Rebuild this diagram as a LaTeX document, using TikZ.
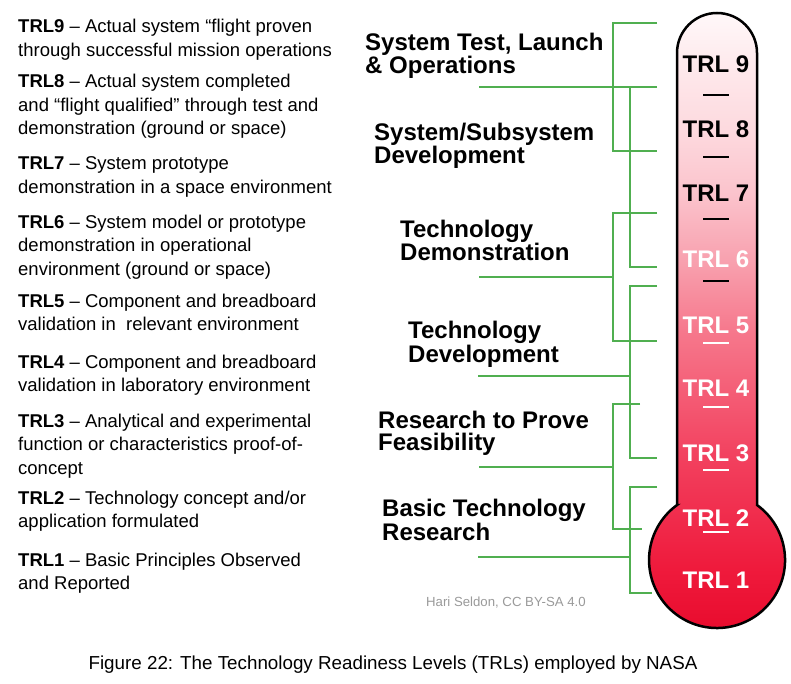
\documentclass[tikz,border=0pt]{standalone}
\usepackage{fontspec}
\setmainfont{Liberation Sans}

% thermometer fill colours, bottom to top
\definecolor{th0}{HTML}{E80A2C}
\definecolor{th1}{HTML}{EF1A3C}
\definecolor{th2}{HTML}{F2405E}
\definecolor{th3}{HTML}{F6788C}
\definecolor{th4}{HTML}{F8A0AE}
\definecolor{th5}{HTML}{FBC3CC}
\definecolor{th6}{HTML}{FDD9DE}
\definecolor{th7}{HTML}{FEE9EC}
\definecolor{th8}{HTML}{FFF8F9}
\definecolor{linkgreen}{RGB}{80,175,80}
\definecolor{creditgray}{HTML}{9A9A9A}

\pgfdeclareverticalshading{thermo}{100bp}{%
  color(0bp)=(th0); color(25bp)=(th0); color(30.5bp)=(th1);
  color(39.3bp)=(th2); color(49.5bp)=(th3); color(55bp)=(th4);
  color(60.5bp)=(th5); color(65.5bp)=(th6); color(70.75bp)=(th7);
  color(75bp)=(th8); color(100bp)=(th8)}

\begin{document}
\begin{tikzpicture}[x=1pt,y=-1pt,
  % multi-line nodes are placed by the baseline of their last line
  desc/.style={anchor=base west, inner sep=0pt, align=left,
    font=\fontsize{18.5}{23.5}\selectfont},
  phase/.style={anchor=base west, inner sep=0pt, align=left,
    font=\bfseries\fontsize{24}{22}\selectfont},
  level/.style={anchor=base, inner sep=0pt,
    font=\bfseries\fontsize{24}{24}\selectfont},
  link/.style={draw=linkgreen, line width=1.5pt},
  tick/.style={line width=2pt}]

\useasboundingbox[fill=white] (0,0) rectangle (791,684);

% level descriptions
\node[desc] (d9) at (18,56.5) {\textbf{TRL9} – Actual system “flight proven\\through successful mission operations};
\node[desc] (d8) at (18,135)  {\textbf{TRL8} – Actual system completed\\and “flight qualified” through test and\\demonstration (ground or space)};
\node[desc] (d7) at (18,193.5) {\textbf{TRL7} – System prototype\\demonstration in a space environment};
\node[desc] (d6) at (18,275)  {\textbf{TRL6} – System model or prototype\\demonstration in operational\\environment (ground or space)};
\node[desc] (d5) at (18,330.5) {\textbf{TRL5} – Component and breadboard\\validation in\ \ relevant environment};
\node[desc] (d4) at (18,391.5) {\textbf{TRL4} – Component and breadboard\\validation in laboratory environment};
\node[desc] (d3) at (18,474)  {\textbf{TRL3} – Analytical and experimental\\function or characteristics proof-of-\\concept};
\node[desc] (d2) at (18,527.5) {\textbf{TRL2} – Technology concept and/or\\application formulated};
\node[desc] (d1) at (18,589.5) {\textbf{TRL1} – Basic Principles Observed\\and Reported};

% phase labels
\node[phase] (p1) at (365,74)  {System Test, Launch\\\& Operations};
\node[phase] (p2) at (374,164) {System/Subsystem\\Development};
\node[phase] (p3) at (400,261) {Technology\\Demonstration};
\node[phase] (p4) at (408,362) {Technology\\Development};
\node[phase] (p5) at (378,450) {Research to Prove\\Feasibility};
\node[phase] (p6) at (382,540) {Basic Technology\\Research};

% brackets grouping the levels
\coordinate (s1) at (479,87);
\coordinate (s3) at (479,277);
\coordinate (s4) at (478,376);
\coordinate (s5) at (479,467);
\coordinate (s6) at (478,557);
\draw[link] (657,23) -| (613,151) -- (657,151);
\draw[link] (s1) -- (657,87);
\draw[link] (657,87) -| (630,267) -- (657,267);
\draw[link] (657,213) -| (613,341) -- (657,341);
\draw[link] (s3) -- (613,277);
\draw[link] (657,286) -| (630,458) -- (657,458);
\draw[link] (s4) -- (630,376);
\draw[link] (640,404) -| (613,529) -- (642,529);
\draw[link] (s5) -- (613,467);
\draw[link] (657,487) -| (630,593) -- (652,593);
\draw[link] (s6) -- (630,557);

% thermometer
\path[shade, shading=thermo, draw=black, line width=2.5pt]
  (677,505) -- (677,53) arc[start angle=180, end angle=360, radius=40]
  -- (757,505) arc[start angle=-54, end angle=234, radius=68] -- cycle;

% scale ticks
\foreach \y in {95,157,219,281}
  \draw[tick, black] (703,\y) -- (729,\y);
\foreach \y in {343,407,470,532}
  \draw[tick, white] (703,\y) -- (729,\y);

% level marks on the scale
\node[level] (t9) at (716,73)  {TRL 9};
\node[level] (t8) at (716,138) {TRL 8};
\node[level] (t7) at (716,202) {TRL 7};
\node[level, white] (t6) at (716,268) {TRL 6};
\node[level, white] (t5) at (716,333) {TRL 5};
\node[level, white] (t4) at (716,396) {TRL 4};
\node[level, white] (t3) at (716,461) {TRL 3};
\node[level, white] (t2) at (716,526) {TRL 2};
\node[level, white] (t1) at (716,588) {TRL 1};

% credit and caption
\node[anchor=base west, inner sep=0pt, text=creditgray,
  font=\fontsize{13.2}{13.2}\selectfont] (credit) at (426,606) {Hari Seldon, CC BY-SA 4.0};
\node[anchor=base, inner sep=0pt, font=\fontsize{18.8}{18.8}\selectfont]
  (caption) at (393,669) {Figure 22: The Technology Readiness Levels (TRLs) employed by NASA};
\end{tikzpicture}
\end{document}
